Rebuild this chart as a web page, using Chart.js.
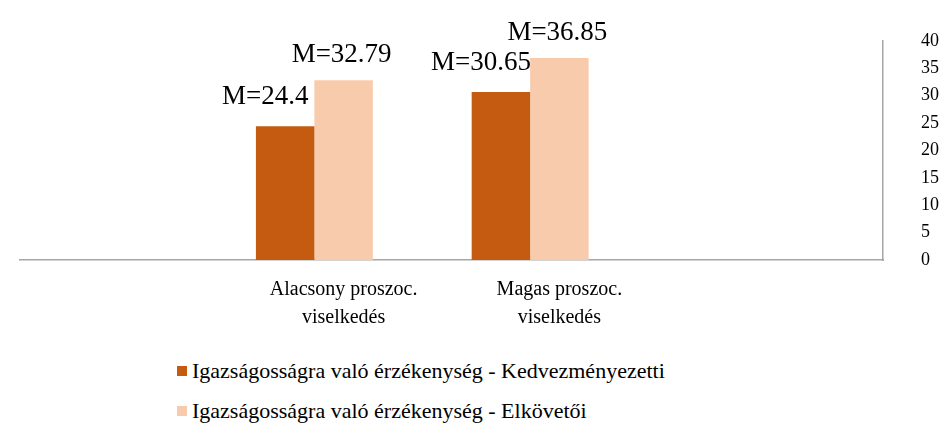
<!DOCTYPE html>
<html lang="hu">
<head>
  <meta charset="UTF-8"/>
  <title>Igazságosságra való érzékenység</title>
  <script src="https://cdn.jsdelivr.net/npm/chart.js"></script>
  <style>
    body { margin: 0; background: #fff; }
    .wrap { position: relative; width: 939px; height: 427px; }
    #chart { display: block; }
    #legend { position: absolute; left: 177px; top: 351px; font-family: 'Liberation Serif', 'Times New Roman', serif; font-size: 22px; color: #000; }
    #legend div { display: flex; align-items: center; height: 40px; }
    #legend span.box { width: 10px; height: 10px; margin-right: 5px; }
  </style>
</head>
<body>
  <div class="wrap">
    <canvas id="chart" width="939" height="345"></canvas>
    <div id="legend"></div>
  </div>
  <script>
    const categories = ['', ['Alacsony proszoc.', 'viselkedés'], ['Magas proszoc.', 'viselkedés'], '']
    const seriesNames = ['Igazságosságra való érzékenység - Kedvezményezetti', 'Igazságosságra való érzékenység - Elkövetői']
    const kedvezmenyezetti = [null, 24.4, 30.65, null]
    const elkovetoi = [null, 32.79, 36.85, null]
    const yTicks = [0, 5, 10, 15, 20, 25, 30, 35, 40]

    const serif = "'Liberation Serif', 'Times New Roman', serif"

    // "M=" labels above the bars, dark ones sit a bit to the left
    const meanLabels = {
      id: 'meanLabels',
      afterDatasetsDraw(chart, args, opts) {
        const ctx = chart.ctx
        ctx.save()
        ctx.font = '27px ' + serif
        ctx.fillStyle = '#000'
        ctx.textAlign = 'center'
        ctx.textBaseline = 'alphabetic'
        chart.data.datasets.forEach((ds, i) => {
          if (ds.noLabel) return
          chart.getDatasetMeta(i).data.forEach((bar, j) => {
            const v = ds.data[j]
            if (v == null) return
            ctx.fillText('M=' + v, bar.x + opts.shift[i], bar.y - opts.gap[i])
          })
        })
        ctx.restore()
      }
    }

    const chart = new Chart(document.getElementById('chart'), {
      type: 'bar',
      data: {
        labels: categories,
        datasets: [
          { label: seriesNames[0], data: kedvezmenyezetti, backgroundColor: '#C55A11' },
          { label: seriesNames[1], data: elkovetoi, backgroundColor: '#F8CBAD' },
          { label: '', data: categories.map(() => null), noLabel: true }
        ]
      },
      options: {
        responsive: false,
        animation: false,
        layout: { padding: { left: 20, top: 36, right: 0, bottom: 5 } },
        datasets: { bar: { barPercentage: 1, categoryPercentage: 0.813 } },
        plugins: {
          legend: { display: false },
          tooltip: { enabled: false },
          meanLabels: { shift: [-20, -2], gap: [22, 18] }
        },
        scales: {
          x: {
            grid: { display: false },
            border: { display: true, color: '#a6a6a6', width: 1.5 },
            ticks: { color: '#000', font: { family: serif, size: 20, lineHeight: 1.4 }, padding: 8, maxRotation: 0, autoSkip: false },
            afterFit: s => { s.height = 80 }
          },
          y: {
            position: 'right',
            min: 0,
            max: 40,
            grid: { display: false },
            border: { display: true, color: '#a6a6a6', width: 1.5 },
            afterBuildTicks: s => { s.ticks = yTicks.map(v => ({ value: v })) },
            ticks: { color: '#000', font: { family: serif, size: 18 }, padding: 30 },
            afterFit: s => { s.width = 56 }
          }
        }
      },
      plugins: [meanLabels]
    })

    const legend = document.getElementById('legend')
    chart.data.datasets.forEach(ds => {
      if (ds.noLabel) return
      const row = document.createElement('div')
      const box = document.createElement('span')
      box.className = 'box'
      box.style.background = ds.backgroundColor
      row.appendChild(box)
      row.appendChild(document.createTextNode(ds.label))
      legend.appendChild(row)
    })
  </script>
</body>
</html>
